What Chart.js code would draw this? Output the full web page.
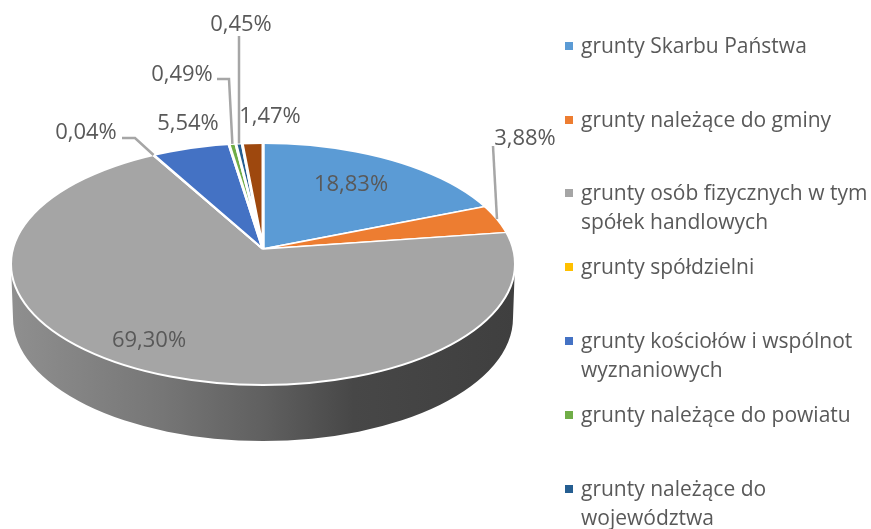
<!DOCTYPE html>
<html>
<head>
<meta charset="utf-8">
<script src="https://cdn.jsdelivr.net/npm/chart.js@4"></script>
<style>
  html, body { margin: 0; padding: 0; background: #fff; overflow: hidden; }
  canvas { display: block; }
</style>
</head>
<body>
<canvas id="pieChart" width="871" height="529"></canvas>
<script>
// values
let categories = ["grunty Skarbu Państwa", "grunty należące do gminy",
                  "grunty osób fizycznych w tym spółek handlowych", "grunty spółdzielni",
                  "grunty kościołów i wspólnot wyznaniowych", "grunty należące do powiatu",
                  "grunty należące do województwa", ""];
let shares = [18.83, 3.88, 69.30, 0.04, 5.54, 0.49, 0.45, 1.47];
let sliceColors = ["#5b9bd5", "#ed7d31", "#a5a5a5", "#ffc000", "#4472c4", "#70ad47", "#255e91", "#9e480e"];

// legend lines, wrapped like the original
let legendLines = [["grunty Skarbu Państwa"], ["grunty należące do gminy"],
                   ["grunty osób fizycznych w tym", "spółek handlowych"], ["grunty spółdzielni"],
                   ["grunty kościołów i wspólnot", "wyznaniowych"], ["grunty należące do powiatu"],
                   ["grunty należące do", "województwa"]];
let legendY = [46, 120, 193, 267, 341, 415, 489];

// where each percent label sits
let labelX = [351, 525, 149, 86, 188, 182, 241, 270];
let labelY = [184, 138, 340, 132, 123, 74, 24, 116];

// leader lines: slice index + elbow points, last point is found on the rim
let leaders = [
    {slice: 1, pts: [[493, 146]]},
    {slice: 3, pts: [[122, 138], [135, 138]]},
    {slice: 5, pts: [[217, 79], [229, 79]]},
    {slice: 6, pts: [[239, 36]]}
];

// the tilted disc: apex of the slices and the outline of the top face
let apex = {x: 263, y: 249};
let tilt = 0.47;
let rim = {x: 263, y: 264, rx: 252, ry: 121};
let base = {x: 263, y: 318, rx: 250, ry: 123};

function fmt(v) {
    return v.toFixed(2).replace(".", ",") + "%";
}

// where the ray through the middle of a slice meets the top face outline
function rimPoint(meta, i) {
    let arc = meta.data[i];
    let mid = (arc.startAngle + arc.endAngle) / 2;
    let dx = Math.cos(mid), dy = Math.sin(mid) * tilt;
    let ox = (apex.x - rim.x) / rim.rx, oy = (apex.y - rim.y) / rim.ry;
    let ux = dx / rim.rx, uy = dy / rim.ry;
    let a = ux * ux + uy * uy, b = 2 * (ox * ux + oy * uy), c = ox * ox + oy * oy - 1;
    let t = (-b + Math.sqrt(b * b - 4 * a * c)) / (2 * a);
    return [apex.x + dx * t, apex.y + dy * t];
}

let discPlugin = {
    id: "disc",
    beforeDatasetsDraw(chart) {
        let ctx = chart.ctx;
        let arc = chart.getDatasetMeta(0).data[0];

        // side wall
        let grad = ctx.createLinearGradient(rim.x - rim.rx, 0, rim.x + rim.rx, 0);
        grad.addColorStop(0, "#8f8f8f");
        grad.addColorStop(0.3, "#767676");
        grad.addColorStop(0.5, "#606060");
        grad.addColorStop(0.68, "#474747");
        grad.addColorStop(1, "#3f3f3f");
        ctx.save();
        ctx.fillStyle = grad;
        ctx.beginPath();
        ctx.ellipse(base.x, base.y, base.rx, base.ry, 0, 0, Math.PI);
        ctx.lineTo(rim.x - rim.rx, rim.y);
        ctx.lineTo(rim.x + rim.rx, rim.y);
        ctx.closePath();
        ctx.fill();
        ctx.restore();

        // slices come out of the library, squashed and cut to the top face
        ctx.save();
        ctx.beginPath();
        ctx.ellipse(rim.x, rim.y, rim.rx, rim.ry, 0, 0, Math.PI * 2);
        ctx.clip();
        ctx.translate(apex.x, apex.y);
        ctx.scale(1, tilt);
        ctx.translate(-arc.x, -arc.y);
    },
    afterDatasetsDraw(chart) {
        let ctx = chart.ctx;
        let meta = chart.getDatasetMeta(0);
        ctx.restore();

        ctx.strokeStyle = "#ffffff";
        ctx.lineWidth = 2;
        ctx.beginPath();
        ctx.ellipse(rim.x, rim.y, rim.rx, rim.ry, 0, 0, Math.PI * 2);
        ctx.stroke();

        // leader lines
        ctx.strokeStyle = "#a6a6a6";
        ctx.lineWidth = 2.5;
        leaders.forEach(l => {
            let end = rimPoint(meta, l.slice);
            ctx.beginPath();
            ctx.moveTo(l.pts[0][0], l.pts[0][1]);
            l.pts.slice(1).forEach(p => ctx.lineTo(p[0], p[1]));
            ctx.lineTo(end[0], end[1]);
            ctx.stroke();
        });

        // percent labels
        ctx.font = "22px 'Open Sans'";
        ctx.fillStyle = "#595959";
        ctx.textAlign = "center";
        ctx.textBaseline = "middle";
        shares.forEach((v, i) => ctx.fillText(fmt(v), labelX[i], labelY[i] + 1));

        // legend
        ctx.font = "21px 'Open Sans'";
        ctx.textAlign = "left";
        legendLines.forEach((lines, i) => {
            ctx.fillStyle = sliceColors[i];
            ctx.fillRect(565, legendY[i] - 4, 8, 8);
            ctx.fillStyle = "#595959";
            lines.forEach((txt, k) => ctx.fillText(txt, 581, legendY[i] + k * 29 + 1));
        });
    }
};

new Chart(document.getElementById("pieChart"), {
    type: "pie",
    data: {
        labels: categories,
        datasets: [{
            data: shares,
            backgroundColor: sliceColors,
            borderColor: "#ffffff",
            borderWidth: 3,
            clip: false
        }]
    },
    options: {
        responsive: false,
        animation: false,
        radius: 320,
        plugins: {
            legend: {display: false},
            tooltip: {enabled: false}
        }
    },
    plugins: [discPlugin]
});
</script>
</body>
</html>
